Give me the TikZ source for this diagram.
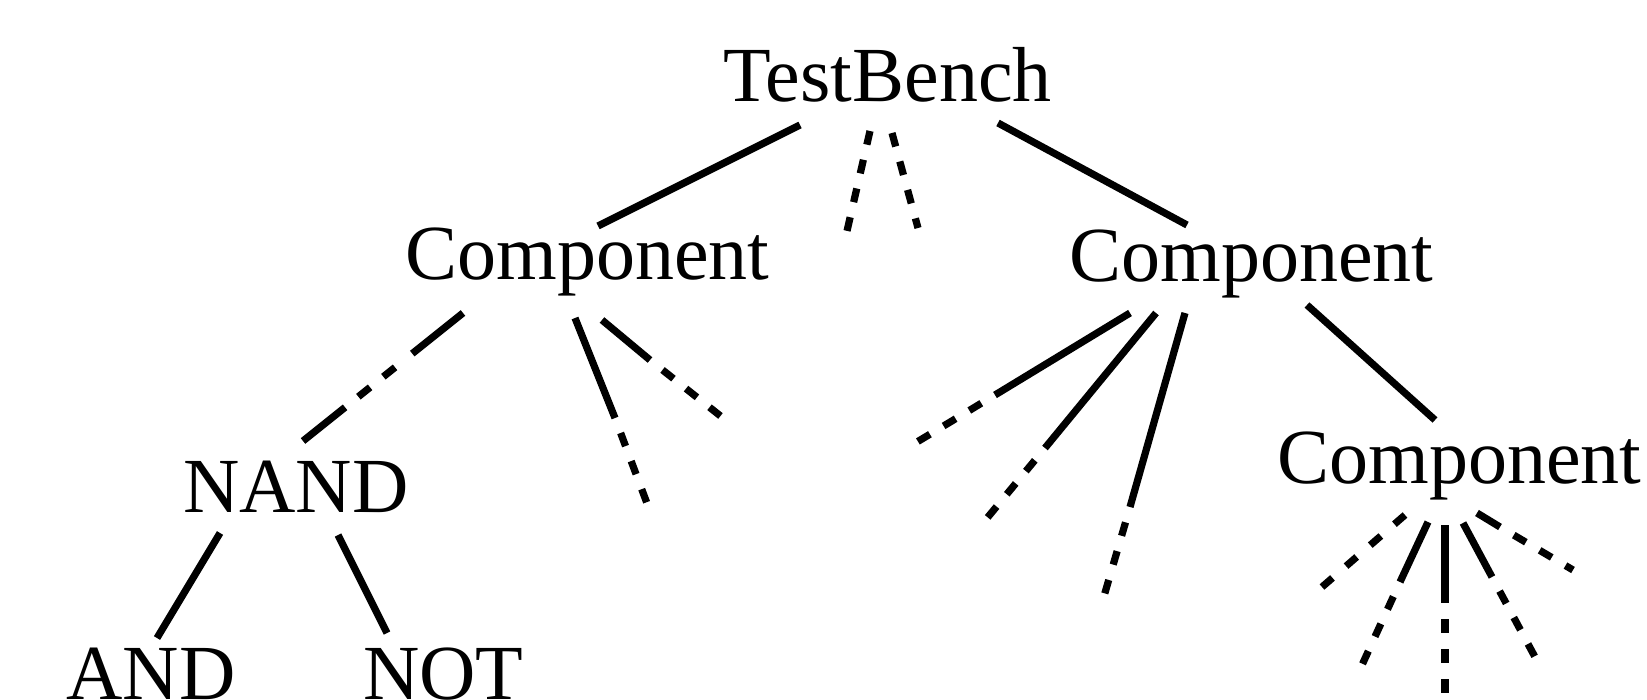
\documentclass[tikz,border=0pt]{standalone}
\usepackage{fontspec}
\setmainfont{Liberation Serif}
\tikzset{
  word/.style={anchor=base,inner sep=0pt,font=\fontsize{78}{90}\selectfont},
  branch/.style={line width=7.2pt},
  stub/.style={line width=7.2pt,dash pattern=on 14pt off 16pt},
}

\begin{document}
\begin{tikzpicture}[x=1pt,y=-1pt]
\useasboundingbox (0,0) rectangle (1647,700);
% the words of the tree
\node[word] (tb) at (887.5,102) {TestBench};
\node[word] (compl) at (587.5,280) {Component};
\node[word] (compr) at (1251.5,282) {Component};
\node[word] (compd) at (1459.5,483) {Component};
\node[word] (nand) at (296,512) {NAND};
\node[word] (and) at (151,699) {AND};
\node[word] (not) at (443.5,699) {NOT};
% where the branches touch the words
\coordinate (tb-l) at (800,125);
\coordinate (compl-t) at (598,226);
\coordinate (tb-r) at (998,123);
\coordinate (compr-t) at (1187,225);
\coordinate (compr-r) at (1307,305);
\coordinate (compd-t) at (1435,420);
\coordinate (compl-l) at (463,313);
\coordinate (nand-t) at (303,441);
\coordinate (nand-l) at (220,533);
\coordinate (and-t) at (157,638);
\coordinate (nand-r) at (338,535);
\coordinate (not-t) at (387,633);
\foreach \a/\b in {tb-l/compl-t,tb-r/compr-t,compr-r/compd-t,nand-l/and-t,nand-r/not-t}
  \draw[branch] (\a) -- (\b);
\draw[branch,dash pattern=on 65pt off 22pt on 15pt off 17pt on 15pt off 17pt on 60pt] (compl-l) -- (nand-t);
% open branches: solid, then three dashes
\foreach \n/\p/\q/\r in {compl-1/{575,318}/{615,418}/{648,506},
    compl-2/{602,320}/{650,360}/{723,418},
    compr-1/{1130,313}/{995,395}/{907,448},
    compr-2/{1156,313}/{1045,448}/{983,523},
    compr-3/{1185,313}/{1130,507}/{1102,603},
    compd-2/{1428,522}/{1400,582}/{1362,665},
    compd-3/{1445,525}/{1445,603}/{1445,695},
    compd-4/{1463,523}/{1492,577}/{1535,657},
    compd-5/{1477,513}/{1500,527}/{1573,570}}{
  \coordinate (\n a) at (\p);
  \coordinate (\n b) at (\q);
  \coordinate (\n c) at (\r);
  \draw[branch] (\n a) -- (\n b);
  \draw[stub,dash phase=14pt] (\n b) -- (\n c);
}
% dashed only
\coordinate (tb-1a) at (870,131);
\coordinate (tb-1c) at (847,231);
\coordinate (tb-2a) at (892,133);
\coordinate (tb-2c) at (918,228);
\coordinate (compd-1a) at (1405,515);
\coordinate (compd-1c) at (1322,587);
\draw[stub,dash pattern=on 14pt off 15.5pt] (tb-1a) -- (tb-1c);
\draw[stub,dash pattern=on 14pt off 15.5pt] (tb-2a) -- (tb-2c);
\draw[stub,dash pattern=on 14pt off 18pt] (compd-1a) -- (compd-1c);
\end{tikzpicture}
\end{document}
